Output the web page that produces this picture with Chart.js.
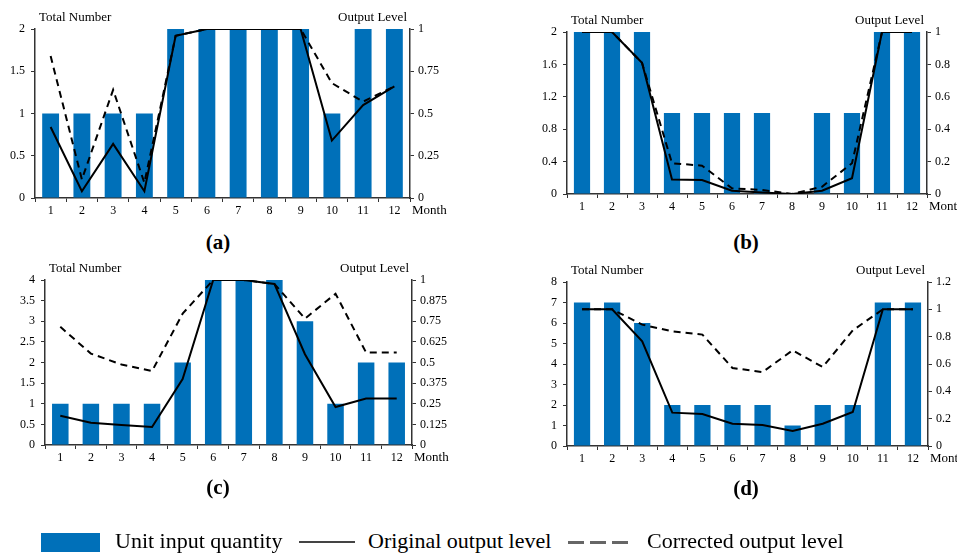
<!DOCTYPE html>
<html>
<head>
<meta charset="utf-8">
<script src="https://cdn.jsdelivr.net/npm/chart.js@4"></script>
<style>
  body { margin: 0; background: #fff; width: 957px; height: 554px; position: relative; overflow: hidden; font-family: "Liberation Serif", serif; }
  canvas { position: absolute; }
  .tag { position: absolute; font: bold 21px "Liberation Serif", serif; transform: translate(-50%, -50%); }
  .lg { position: absolute; font-size: 22px; color: #000; white-space: nowrap; transform: translateY(-50%); }
</style>
</head>
<body>
<canvas id="chartA"></canvas>
<canvas id="chartB"></canvas>
<canvas id="chartC"></canvas>
<canvas id="chartD"></canvas>

<div class="tag" style="left:218px; top:242px;">(a)</div>
<div class="tag" style="left:746px; top:242px;">(b)</div>
<div class="tag" style="left:218px; top:487px;">(c)</div>
<div class="tag" style="left:746px; top:488px;">(d)</div>

<div style="position:absolute; left:41px; top:533px; width:59px; height:19px; background:#0070b9;"></div>
<div class="lg" style="left:115px; top:541px;">Unit input quantity</div>
<div style="position:absolute; left:299px; top:541px; width:56px; height:2px; background:#444;"></div>
<div class="lg" style="left:368px; top:541px;">Original output level</div>
<div style="position:absolute; left:568px; top:541px; width:60px; height:3px; background:repeating-linear-gradient(to right, #666 0 16px, transparent 16px 22px);"></div>
<div class="lg" style="left:647px; top:541px;">Corrected output level</div>

<script>
const months = ['1', '2', '3', '4', '5', '6', '7', '8', '9', '10', '11', '12'];

// (a)
const barsA = [1, 1, 1, 1, 2, 2, 2, 2, 2, 1, 2, 2];
const origA = [0.42, 0.04, 0.32, 0.04, 0.96, 1, 1, 1, 1, 0.34, 0.55, 0.66];
const corrA = [0.84, 0.11, 0.64, 0.09, 0.96, 1, 1, 1, 1, 0.68, 0.57, 0.66];
// (b)
const barsB = [2, 2, 2, 1, 1, 1, 1, 0, 1, 1, 2, 2];
const origB = [1, 1, 0.81, 0.09, 0.086, 0.02, 0.01, 0, 0.02, 0.097, 1, 1];
const corrB = [1, 1, 0.81, 0.19, 0.175, 0.035, 0.025, 0, 0.045, 0.19, 1, 1];
// (c)
const barsC = [1, 1, 1, 1, 2, 4, 4, 4, 3, 1, 2, 2];
const origC = [0.177, 0.135, 0.121, 0.109, 0.4, 1, 1, 0.976, 0.55, 0.23, 0.282, 0.282];
const corrC = [0.716, 0.554, 0.488, 0.448, 0.796, 1, 1, 0.976, 0.766, 0.917, 0.56, 0.56];
// (d)
const barsD = [7, 7, 6, 2, 2, 2, 2, 1, 2, 2, 7, 7];
const origD = [1, 1, 0.766, 0.244, 0.234, 0.163, 0.154, 0.11, 0.163, 0.249, 1, 1];
const corrD = [1, 1, 0.888, 0.839, 0.815, 0.571, 0.541, 0.7, 0.578, 0.846, 1, 1];

// axis ranges [max, step]
const leftAxisA = [2, 0.5],  rightAxisA = [1, 0.25];
const leftAxisB = [2, 0.4],  rightAxisB = [1, 0.2];
const leftAxisC = [4, 0.5],  rightAxisC = [1, 0.125];
const leftAxisD = [8, 1],    rightAxisD = [1.2, 0.2];

const FONT = '"Liberation Serif", serif';
const BLUE = '#0070b9';
const AXIS = '#333';
const PADL = 45, PADR = 50, PADT = 22, PADB = 30;

const fmt = v => String(+Number(v).toFixed(3));

const titles = {
  id: 'titles',
  afterDraw(chart) {
    const { ctx, chartArea } = chart;
    ctx.save();
    ctx.fillStyle = '#000';
    ctx.font = '13px ' + FONT;
    ctx.textBaseline = 'middle';
    ctx.textAlign = 'left';
    ctx.fillText('Total Number', chartArea.left + 4, chartArea.top - 11);
    ctx.textAlign = 'right';
    ctx.fillText('Output Level', chartArea.right - 3, chartArea.top - 11);
    ctx.textAlign = 'left';
    ctx.fillText('Month', chartArea.right + 2, chartArea.bottom + 13);
    ctx.restore();
  }
};

function makeChart(id, box, bars, orig, corr, leftAxis, rightAxis) {
  const el = document.getElementById(id);
  const w = box.R - box.L + PADL + PADR;
  const h = box.B - box.T + PADT + PADB;
  el.style.left = (box.L - PADL) + 'px';
  el.style.top = (box.T - PADT) + 'px';
  el.style.width = w + 'px';
  el.style.height = h + 'px';
  el.width = w;
  el.height = h;

  const tickFont = { family: FONT, size: 12 };
  new Chart(el, {
    type: 'bar',
    data: {
      labels: months,
      datasets: [
        {
          type: 'line', label: 'Original output level', data: orig, yAxisID: 'y1',
          borderColor: '#000', borderWidth: 2, pointRadius: 0, tension: 0, order: 1
        },
        {
          type: 'line', label: 'Corrected output level', data: corr, yAxisID: 'y1',
          borderColor: '#000', borderWidth: 2, borderDash: [7, 5], pointRadius: 0, tension: 0, order: 2
        },
        {
          label: 'Unit input quantity', data: bars, yAxisID: 'y',
          backgroundColor: BLUE, categoryPercentage: 1, barPercentage: 0.54, order: 3
        }
      ]
    },
    options: {
      responsive: false,
      animation: false,
      layout: { padding: { top: PADT, left: 0, right: 0, bottom: 0 } },
      plugins: { legend: { display: false }, tooltip: { enabled: false } },
      scales: {
        x: {
          offset: true,
          grid: { display: true, offset: true, drawOnChartArea: false, drawTicks: true, tickLength: 4, color: AXIS },
          border: { display: true, color: AXIS, width: 1.5 },
          ticks: { font: tickFont, color: '#000', padding: 2, maxRotation: 0, autoSkip: false },
          afterFit(s) { s.height = PADB; }
        },
        y: {
          position: 'left', min: 0, max: leftAxis[0],
          grid: { drawOnChartArea: false, drawTicks: true, tickLength: 4, color: AXIS },
          border: { display: true, color: AXIS, width: 1.5 },
          ticks: { stepSize: leftAxis[1], font: tickFont, color: '#000', padding: 6, callback: fmt },
          afterFit(s) { s.width = PADL; }
        },
        y1: {
          position: 'right', min: 0, max: rightAxis[0],
          grid: { drawOnChartArea: false, drawTicks: true, tickLength: 4, color: AXIS },
          border: { display: true, color: AXIS, width: 1.5 },
          ticks: { stepSize: rightAxis[1], font: tickFont, color: '#000', padding: 4, callback: fmt },
          afterFit(s) { s.width = PADR; }
        }
      }
    },
    plugins: [titles]
  });
}

makeChart('chartA', { L: 35, R: 410, T: 29, B: 198 }, barsA, origA, corrA, leftAxisA, rightAxisA);
makeChart('chartB', { L: 567, R: 927, T: 32, B: 194 }, barsB, origB, corrB, leftAxisB, rightAxisB);
makeChart('chartC', { L: 45, R: 412, T: 280, B: 445 }, barsC, origC, corrC, leftAxisC, rightAxisC);
makeChart('chartD', { L: 567, R: 928, T: 282, B: 446 }, barsD, origD, corrD, leftAxisD, rightAxisD);
</script>
</body>
</html>
